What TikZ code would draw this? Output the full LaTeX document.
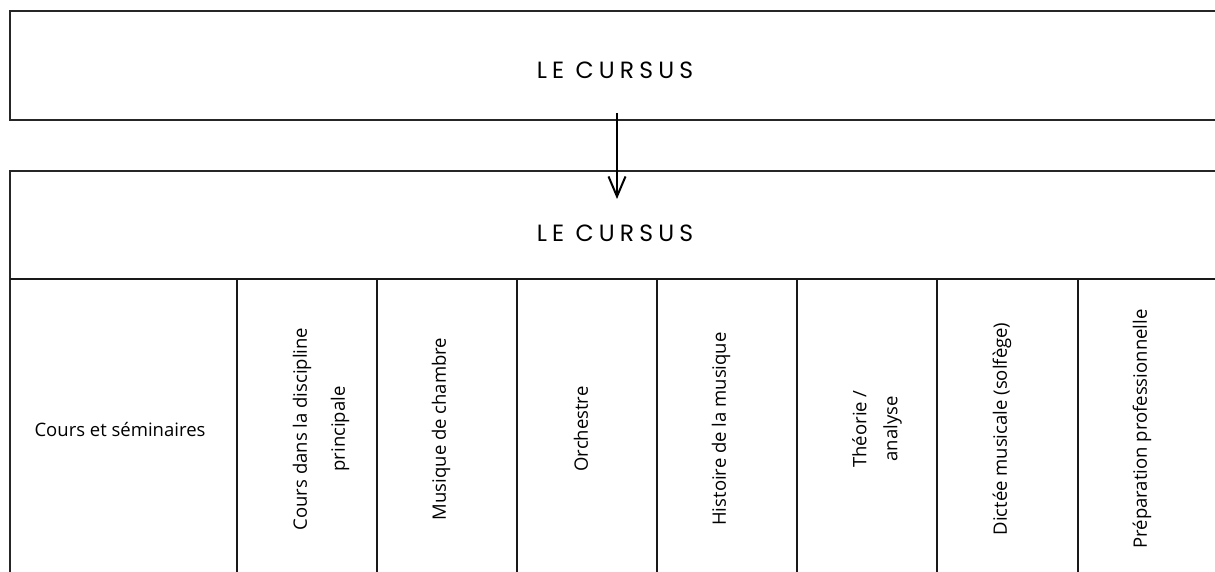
\documentclass[tikz,border=0pt]{standalone}
\usepackage{fontspec}
\setmainfont{Open Sans}
\newfontfamily\titlefont[LetterSpace=22]{Poppins}
\usetikzlibrary{arrows.meta}
\tikzset{
  frame/.style={draw=black!85, line width=1.3pt},
  sep/.style={draw=black!90, line width=1.2pt},
  title/.style={font=\titlefont\fontsize{23.5}{26}\selectfont, anchor=base},
  lab/.style={font=\fontsize{18.5}{34}\selectfont, align=center},
  vlab/.style={lab, rotate=90},
  flow/.style={draw=black, line width=2.3pt, -{Straight Barb[length=20pt,width=17pt,line width=2pt]}}
}
\begin{document}
\begin{tikzpicture}[x=1pt,y=-1pt]
\useasboundingbox (0,0) rectangle (1215,572);
% top box (open at right)
\draw[frame] (1220,11) -- (10,11) -- (10,120) -- (1220,120);
\node[title] (t1) at (615,79) {LE CURSUS};
% second box
\draw[frame] (1220,171) -- (10,171) -- (10,580);
\draw[sep] (10,279) -- (1220,279);
\node[title] (t2) at (615,241) {LE CURSUS};
% columns
\foreach \x in {237,377,517,657,797,937,1078}
  \draw[sep] (\x,279) -- (\x,580);
\node[lab] (c0) at (120,430) {Cours et séminaires};
\node[vlab, font=\fontsize{18.5}{38}\selectfont] (c1) at (321,429) {Cours dans la discipline\\principale};
\node[vlab] (c2) at (441,429) {Musique de chambre};
\node[vlab] (c3) at (581,429) {Orchestre};
\node[vlab] (c4) at (721,429) {Histoire de la musique};
\node[vlab, font=\fontsize{18.5}{31}\selectfont] (c5) at (877,429) {Théorie /\\analyse};
\node[vlab] (c6) at (1002,429) {Dictée musicale (solfège)};
\node[vlab] (c7) at (1142,429) {Préparation professionnelle};
% arrow
\coordinate (a) at (617,113);
\coordinate (b) at (617,199);
\draw[flow] (a) -- (b);
\end{tikzpicture}
\end{document}
